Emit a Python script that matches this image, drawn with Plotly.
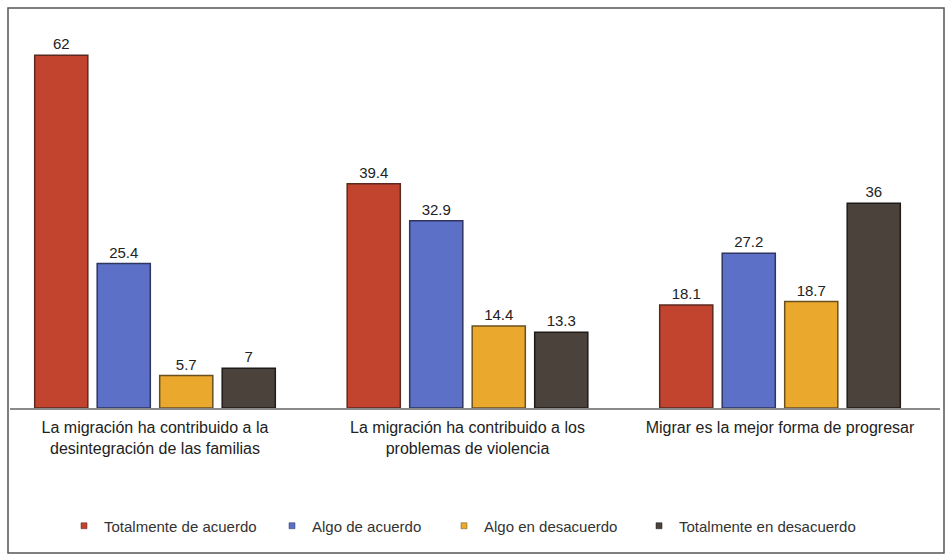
import plotly.graph_objects as go

categories = [
    "La migración ha contribuido a la<br>desintegración de las familias",
    "La migración ha contribuido a los<br>problemas de violencia",
    "Migrar es la mejor forma de progresar",
]
series_names = [
    "Totalmente de acuerdo",
    "Algo de acuerdo",
    "Algo en desacuerdo",
    "Totalmente en desacuerdo",
]
totalmente_de_acuerdo = [62, 39.4, 18.1]
algo_de_acuerdo = [25.4, 32.9, 27.2]
algo_en_desacuerdo = [5.7, 14.4, 18.7]
totalmente_en_desacuerdo = [7, 13.3, 36]

values = [totalmente_de_acuerdo, algo_de_acuerdo, algo_en_desacuerdo, totalmente_en_desacuerdo]
colors = ["#c2432e", "#5b70c6", "#eaa82c", "#4b433b"]
edges = ["#5a2a20", "#2f3560", "#6a5020", "#1f1b18"]

W, H = 948, 556
L, R, T, B = 10, 8, 20, 148
pw, ph = W - L - R, H - T - B

def px(p):
    return (p - L) / pw

def py(p):
    return (H - B - p) / ph

fig = go.Figure()
legend_ids = ["legend", "legend2", "legend3", "legend4"]
for name, vals, c, e, lg in zip(series_names, values, colors, edges, legend_ids):
    fig.add_trace(go.Bar(
        x=categories, y=vals, name=name, showlegend=False, legendgroup=name,
        marker=dict(color=c, line=dict(color=e, width=1.5)),
        text=[f"{v:g}" for v in vals], textposition="outside",
        textfont=dict(size=15, color="#222222", family="Liberation Sans, Arial"),
        cliponaxis=False,
    ))
    fig.add_trace(go.Scatter(
        x=[None], y=[None], mode="markers", name=name, legendgroup=name,
        marker=dict(symbol="square", size=6, color=c, line=dict(color=e, width=0.5)),
        showlegend=True, legend=lg,
    ))

legend_text_x = [104, 312, 484, 679]
layout_legends = {}
for lg, tx in zip(legend_ids, legend_text_x):
    layout_legends[lg] = dict(
        x=px(tx - 40), xanchor="left", y=py(526), yanchor="middle",
        bgcolor="rgba(0,0,0,0)", borderwidth=0, itemwidth=30,
        font=dict(size=15, color="#333333", family="Liberation Sans, Arial"),
    )

fig.update_layout(
    width=W, height=H,
    margin=dict(l=L, r=R, t=T, b=B),
    paper_bgcolor="white", plot_bgcolor="white",
    barmode="group", bargap=0.2, bargroupgap=0.15,
    font=dict(family="Liberation Sans, Arial", color="#222222"),
    showlegend=True,
    **layout_legends,
)
fig.update_xaxes(
    range=[-0.464, 2.512], showgrid=False, showline=True, linecolor="#8a8a8a", linewidth=2,
    ticks="", tickfont=dict(size=16, color="#222222"), ticklabelstandoff=4,
)
fig.update_yaxes(range=[0, 68.2], visible=False)

# outer frame
fig.add_shape(type="rect", xref="paper", yref="paper",
              x0=px(8), x1=px(944), y0=py(553), y1=py(8),
              line=dict(color="#555555", width=1.5), fillcolor="rgba(0,0,0,0)", layer="below")

fig.write_html("out.html", config={"displayModeBar": False},
               post_script="document.body.style.margin='0';document.body.style.overflow='hidden';")
